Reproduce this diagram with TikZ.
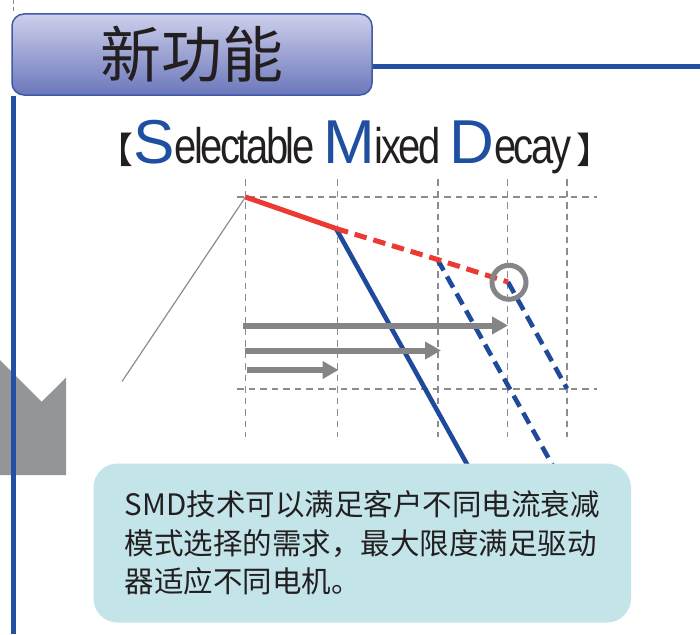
\documentclass[tikz,border=0pt]{standalone}
\usepackage{fontspec}
\setmainfont{Liberation Sans}
\newfontfamily\cjk{Noto Sans CJK SC}
\newfontfamily\condsans[FakeStretch=0.8,LetterSpace=-5]{Liberation Sans}
\usetikzlibrary{arrows.meta}

\definecolor{frameblue}{HTML}{2350A3}
\definecolor{smdblue}{HTML}{1F4FA0}
\definecolor{curblue}{HTML}{1F4A9C}
\definecolor{curred}{HTML}{EC3A33}
\definecolor{gridgray}{HTML}{8C8C8F}
\definecolor{arrowgray}{HTML}{858588}
\definecolor{shapegray}{HTML}{939598}
\definecolor{boxcyan}{HTML}{C3E5EA}
\definecolor{tabtop}{HTML}{CDCFEB}
\definecolor{tabbottom}{HTML}{6B77BB}
\definecolor{tabline}{HTML}{3F5BA8}
\definecolor{textdark}{HTML}{231F20}

\newcommand\smdcap[1]{\textcolor{smdblue}{\fontsize{62}{62}\selectfont #1}}
\newcommand\smdrest[1]{{\condsans\fontsize{50}{50}\selectfont #1}}

\begin{document}
\begin{tikzpicture}[x=1pt,y=-1pt,
    frame/.style={draw=frameblue, line width=5pt},
    tab/.style={shade, top color=tabtop, bottom color=tabbottom, draw=tabline,
        line width=1.5pt, rounded corners=12pt, minimum width=360pt,
        minimum height=81pt, text=textdark, font=\cjk\fontsize{61}{61}\selectfont},
    gridline/.style={draw=gridgray, line width=1.4pt, dash pattern=on 6.5pt off 5pt},
    redline/.style={draw=curred, line width=5pt},
    blueline/.style={draw=curblue, line width=4.6pt},
    broken/.style={dash pattern=on 12.5pt off 7pt},
    steparrow/.style={draw=arrowgray, line width=6pt, -{Triangle[length=16pt,width=17pt]}},
    ring/.style={draw=arrowgray, line width=5pt},
    descbox/.style={fill=boxcyan, rounded corners=24pt, minimum width=537.5pt,
        minimum height=159pt, align=left, inner sep=0pt, text=textdark,
        font=\cjk\fontsize{29.5}{38.4}\selectfont}]
    % Fix the page size
    \useasboundingbox (0,0) rectangle (700,634);
    % Gray mark on the left
    \fill[shapegray] (0,360) -- (41.7,401.7) -- (66,377.7) -- (66,475) -- (0,475) -- cycle;
    % Title tab and frame
    \draw[gridgray, line width=1pt, dash pattern=on 4pt off 3pt] (13.5,0) -- (13.5,13);
    \node[tab] (tab) at (192,54.5) {新功能};
    \coordinate (frametop) at (700,66.3);
    \coordinate (framebottom) at (13.5,634);
    \draw[frame] (tab.east |- frametop) -- (frametop);
    \draw[frame] (tab.south west -| framebottom) -- (framebottom);
    % Subtitle
    \node[anchor=base, text=textdark] (subtitle) at (355,163)
        {{\cjk\fontsize{36}{36}\selectfont 【}\smdcap{S}\smdrest{electable }\smdcap{M}\smdrest{ixed }\smdcap{D}\smdrest{ecay}\hspace{6pt}{\cjk\fontsize{36}{36}\selectfont 】}};
    % Grid
    \foreach \gx in {245.5,337.5,438,507.5,567}
        \draw[gridline] (\gx,179) -- (\gx,437);
    \foreach \gy in {197,389}
        \draw[gridline] (237,\gy) -- (597,\gy);
    % Decay points
    \coordinate (p0) at (245.5,197);
    \coordinate (p1) at (336,228.5);
    \coordinate (p2) at (437.5,259.5);
    \coordinate (p3) at (508,282);
    \coordinate (b1) at (473,475);
    \coordinate (b2) at (558,475);
    \coordinate (b3) at (567,388.5);
    \coordinate (q) at (122,381.5);
    % Thin pointer line
    \draw[gridgray, line width=1.2pt] (p0) -- (q);
    % Blue decay lines
    \draw[blueline] (p1) -- (b1);
    \draw[blueline, broken] (p2) -- (b2);
    \draw[blueline, broken] (p3) -- (b3);
    % Red current line
    \draw[redline] (p0) -- (p1);
    \draw[redline, broken] (p1) -- (p2) -- (p3);
    % Step arrows
    \coordinate (a1) at (243,325.5);
    \coordinate (a2) at (245,350.5);
    \coordinate (a3) at (247,370);
    \draw[steparrow] (a1) -- (a1 -| p3);
    \draw[steparrow] (a2) -- (a2 -| 441,0);
    \draw[steparrow] (a3) -- (a3 -| 338.5,0);
    % Ring at the last point
    \draw[ring] (509,282.3) circle (17);
    % Text box
    \node[descbox] (desc) at (362.25,543)
        {SMD技术可以满足客户不同电流衰减\\模式选择的需求，最大限度满足驱动\\器适应不同电机。};
\end{tikzpicture}
\end{document}
